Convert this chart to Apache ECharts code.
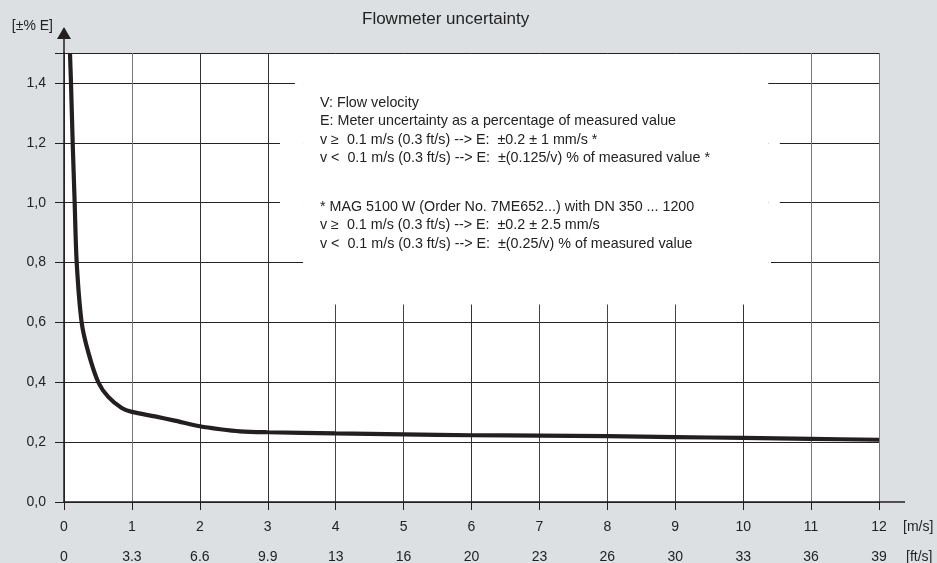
<!DOCTYPE html>
<html>
<head>
<meta charset="utf-8">
<script src="https://cdn.jsdelivr.net/npm/echarts@6/dist/echarts.min.js"></script>
<style>
html,body{margin:0;padding:0;background:#dce0e3;}
#chart{width:937px;height:563px;}
</style>
</head>
<body>
<div id="chart"></div>
<script>
// ---- data ----
const velocityMs = [0.088, 0.103, 0.128, 0.157, 0.187, 0.26, 0.358, 0.505, 0.652, 0.85, 1.0, 1.34, 1.63, 2.0, 2.3, 2.59, 3, 4, 5, 6, 7, 8, 9, 10, 11, 12];
const uncertainty = [1.5, 1.4, 1.2, 1.0, 0.8, 0.6, 0.5, 0.4, 0.351, 0.314, 0.301, 0.286, 0.272, 0.253, 0.243, 0.236, 0.233, 0.229, 0.226, 0.223, 0.222, 0.22, 0.217, 0.214, 0.211, 0.208];
const msTickLabels = ['0','1','2','3','4','5','6','7','8','9','10','11','12'];
const ftTickLabels = ['0','3.3','6.6','9.9','13','16','20','23','26','30','33','36','39'];
const yTickLabels = ['0,0','0,2','0,4','0,6','0,8','1,0','1,2','1,4'];
const titleText = 'Flowmeter uncertainty';
const noteBlock1 = [
  'V: Flow velocity',
  'E: Meter uncertainty as a percentage of measured value',
  'v \u2265  0.1 m/s (0.3 ft/s) --> E:  \u00b10.2 \u00b1 1 mm/s *',
  'v <  0.1 m/s (0.3 ft/s) --> E:  \u00b1(0.125/v) % of measured value *'
];
const noteBlock2 = [
  '* MAG 5100 W (Order No. 7ME652...) with DN 350 ... 1200',
  'v \u2265  0.1 m/s (0.3 ft/s) --> E:  \u00b10.2 \u00b1 2.5 mm/s',
  'v <  0.1 m/s (0.3 ft/s) --> E:  \u00b1(0.25/v) % of measured value'
];
// white areas (data coords) where the grid is hidden behind the note text
const noteMask = [
  [[3.52, 0.66], [10.37, 1.497]],
  [[3.40, 1.385], [3.52, 1.415]],
  [[3.18, 1.185], [3.52, 1.215]],
  [[10.37, 1.185], [10.54, 1.215]],
  [[3.18, 0.985], [3.52, 1.015]],
  [[10.37, 0.985], [10.54, 1.015]],
  [[10.37, 0.785], [10.41, 0.815]]
];

const FONT = '"Liberation Sans", Arial, sans-serif';
const INK = '#231f20';
const chart = echarts.init(document.getElementById('chart'), null, {renderer: 'canvas'});

const seriesData = velocityMs.map((v, i) => [v, uncertainty[i]]);

chart.setOption({
  backgroundColor: '#dce0e3',
  animation: false,
  textStyle: {fontFamily: FONT},
  title: {
    text: titleText,
    left: 362, top: 11, padding: 0,
    textStyle: {fontFamily: FONT, fontSize: 17, fontWeight: 'normal', color: '#222'}
  },
  grid: {
    left: 64, right: 58, top: 53, bottom: 61,
    outerBoundsMode: 'none', containLabel: false,
    show: true, backgroundColor: '#ffffff', borderWidth: 0
  },
  xAxis: [{
    type: 'value', min: 0, max: 12, interval: 1,
    position: 'bottom',
    name: '[m/s]', nameLocation: 'end', nameGap: 24,
    nameTextStyle: {fontFamily: FONT, fontSize: 14, color: '#222', verticalAlign: 'top', align: 'left', padding: [18, 0, 0, 0]},
    axisLine: {show: true, onZero: false, lineStyle: {color: INK, width: 1.5},
      symbol: ['none', 'rect'], symbolSize: [1.5, 26], symbolOffset: [0, 13]},
    axisTick: {show: true, length: 8, inside: false, lineStyle: {color: INK, width: 1}},
    axisLabel: {margin: 18, fontSize: 14, color: '#222', fontFamily: FONT,
      formatter: v => { const i = Math.round(v); return Math.abs(v - i) < 1e-6 && msTickLabels[i] !== undefined ? msTickLabels[i] : ''; }},
    splitLine: {show: true, lineStyle: {color: ['#333','#777','#333','#333','#444','#444','#333','#444','#444','#444','#333','#777','#777'], width: 1}}
  }, {
    type: 'value', min: 0, max: 12, interval: 1,
    position: 'bottom', offset: 30,
    name: '[ft/s]', nameLocation: 'end', nameGap: 27,
    nameTextStyle: {fontFamily: FONT, fontSize: 14, color: '#222', verticalAlign: 'top', align: 'left', padding: [18, 0, 0, 0]},
    axisLine: {show: false, onZero: false},
    axisTick: {show: false},
    splitLine: {show: false},
    axisLabel: {margin: 18, fontSize: 14, color: '#222', fontFamily: FONT,
      formatter: v => { const i = Math.round(v); return Math.abs(v - i) < 1e-6 && ftTickLabels[i] !== undefined ? ftTickLabels[i] : ''; }}
  }],
  yAxis: {
    type: 'value', min: 0, max: 1.5, interval: 0.2,
    name: '[\u00b1% E]', nameLocation: 'end', nameGap: 27,
    nameTextStyle: {fontFamily: FONT, fontSize: 14, color: '#222', align: 'right', verticalAlign: 'middle', padding: [0, 11, 0, 0]},
    axisLine: {show: true, onZero: false, lineStyle: {color: INK, width: 1.5},
      symbol: ['none', 'path://M7,0 L14,12 L7.75,12 L7.75,26 L6.25,26 L6.25,12 L0,12 Z'],
      symbolSize: [14, 26], symbolOffset: [0, 13]},
    axisTick: {show: true, length: 9, inside: false, lineStyle: {color: INK, width: 1}},
    axisLabel: {margin: 18, fontSize: 14, color: '#222', fontFamily: FONT,
      formatter: v => { const i = Math.round(v / 0.2); return Math.abs(v - i * 0.2) < 1e-6 && yTickLabels[i] !== undefined ? yTickLabels[i] : ''; }},
    splitLine: {show: true, lineStyle: {color: '#222', width: 1}}
  },
  graphic: [
    {type: 'text', left: 320, top: 94, z: 10, silent: true,
      style: {text: noteBlock1.join('\n'), font: '14.3px ' + FONT, lineHeight: 18.3, fill: '#222'}},
    {type: 'text', left: 320, top: 198, z: 10, silent: true,
      style: {text: noteBlock2.join('\n'), font: '14.3px ' + FONT, lineHeight: 18.3, fill: '#222'}}
  ],
  series: [{
    type: 'line',
    xAxisIndex: 0,
    data: seriesData,
    smooth: 0.3,
    showSymbol: false,
    clip: true,
    lineStyle: {color: INK, width: 4.2},
    markArea: {
      silent: true,
      itemStyle: {color: '#ffffff', borderWidth: 0},
      label: {show: false},
      emphasis: {disabled: true},
      data: noteMask.map(r => [{coord: r[0]}, {coord: r[1]}])
    }
  }]
});
</script>
</body>
</html>
